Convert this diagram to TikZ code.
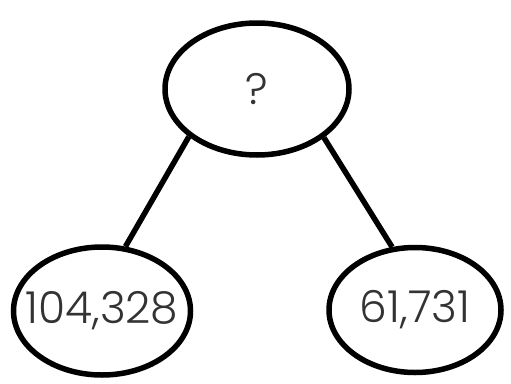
\documentclass[tikz,border=0pt]{standalone}
\usepackage{fontspec}
\setmainfont{Poppins}[UprightFont=* Light]
\usetikzlibrary{shapes.geometric}
\begin{document}
\begin{tikzpicture}[x=1pt,y=-1pt,
  bubble/.style={ellipse, draw=black, line width=5.5pt, inner sep=0pt},
  num/.style={text=black!80, font=\fontsize{44}{44}\selectfont},
  link/.style={line width=5.5pt, draw=black}]
\useasboundingbox (0,0) rectangle (511,383);
\node[bubble, minimum width=184pt, minimum height=132pt, label={[num]center:?}] (top) at (257,89) {};
\node[bubble, minimum width=177pt, minimum height=128pt, label={[num]center:104,328}] (left) at (102,311) {};
\node[bubble, minimum width=172pt, minimum height=125pt, label={[num]center:61,731}] (right) at (415,310) {};
\draw[link] (top.215) -- (left.70);
\draw[link] (top.324.5) -- (right.110);
\end{tikzpicture}
\end{document}
